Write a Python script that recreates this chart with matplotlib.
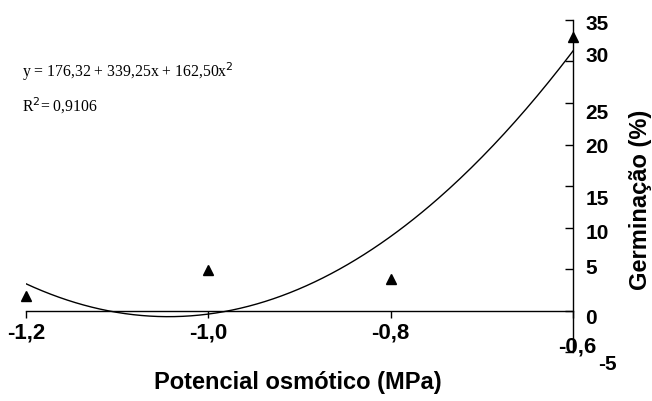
import numpy as np
import matplotlib
matplotlib.use('Agg')
import matplotlib.pyplot as plt
from matplotlib.transforms import ScaledTranslation

# dados observados
potencial = [-1.2, -1.0, -0.8, -0.6]
germinacao = [1.7, 4.9, 3.8, 33.0]

# coeficientes da regressao (y = a + b x + c x^2)
coef = [162.50, 339.25, 176.32]
equacao = 'y = 176,32 + 339,25x + 162,50x$^{2}$'
r2_txt = 'R$^{2}$= 0,9106'

x_ticks = [-1.2, -1.0, -0.8, -0.6]
x_labels = ['-1,2', '-1,0', '-0,8', '-0,6']
y_ticks = [-5, 0, 5, 10, 15, 20, 25, 30, 35]
y_labels = ['-5', '0', '5', '10', '15', '20', '25', '30', '35']

plt.rcParams['font.family'] = ['Liberation Sans', 'DejaVu Sans']

fig = plt.figure(figsize=(6.52, 4.01), dpi=100)
ax = fig.add_axes([26/652, 1-352/401, (573-26)/652, (352-20)/401])

xs = np.linspace(-1.2, -0.6, 200)
ax.plot(xs, np.polyval(coef, xs), color='black', lw=1.0)
ax.plot(potencial, germinacao, '^', color='black', ms=7, clip_on=False)

ax.set_xlim(-1.2, -0.6)
ax.set_ylim(-5, 35)

ax.spines['left'].set_visible(False)
ax.spines['top'].set_visible(False)
ax.spines['bottom'].set_position(('data', 0))
ax.spines['bottom'].set_linewidth(1.0)
ax.spines['right'].set_linewidth(1.0)

ax.set_xticks(x_ticks)
ax.set_xticklabels(x_labels, fontsize=16, fontweight='bold')
ax.tick_params(axis='x', direction='out', length=5, width=1, pad=4)

ax.yaxis.tick_right()
ax.set_yticks(y_ticks)
ax.set_yticklabels(y_labels, fontsize=15, fontweight='bold')
ax.tick_params(axis='y', direction='in', length=6, width=1, pad=9)

# deslocamentos dos rotulos como no original (pixels)
y_off = {'-5': (13, 10), '0': (0, 6), '5': (0, -3), '10': (0, 4), '15': (0, 12),
         '20': (0, 1), '25': (0, 9), '30': (0, -7), '35': (0, 3)}
for lab in ax.get_yticklabels():
    dx, dy = y_off.get(lab.get_text(), (0, 0))
    lab.set_transform(lab.get_transform() + ScaledTranslation(dx/100, -dy/100, fig.dpi_scale_trans))
for lab in ax.get_xticklabels():
    if lab.get_text() == '-0,6':
        lab.set_transform(lab.get_transform() + ScaledTranslation(4/100, -13/100, fig.dpi_scale_trans))

fig.text(298/652, 1-382/401, 'Potencial osmótico (MPa)', fontsize=17, fontweight='bold',
         ha='center', va='center')
fig.text(640/652, 1-200/401, 'Germinação (%)', fontsize=17, fontweight='bold',
         ha='center', va='center', rotation=90)

fig.text(22/652, 1-72/401, equacao, fontsize=11.3, family='Liberation Serif', va='center')
fig.text(22/652, 1-106/401, r2_txt, fontsize=11.3, family='Liberation Serif', va='center')

fig.savefig('out.png', dpi=100)
